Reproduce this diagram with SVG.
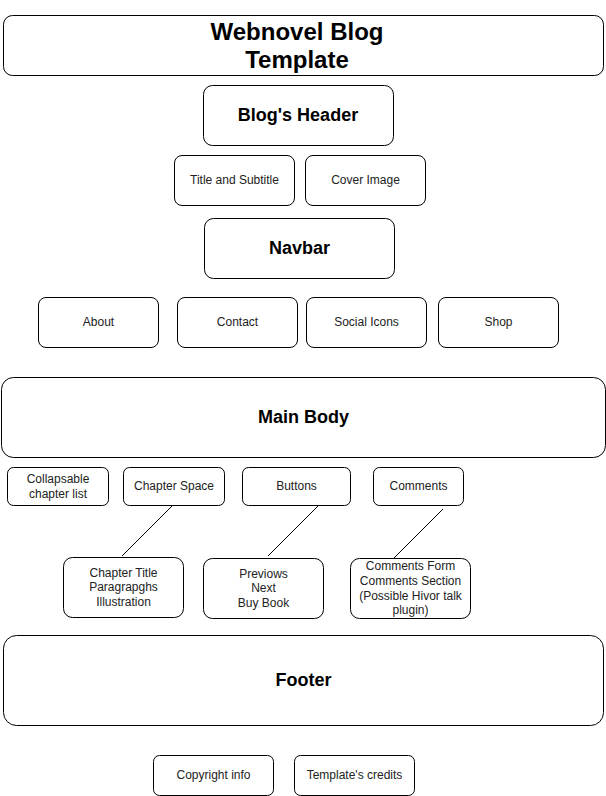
<svg xmlns="http://www.w3.org/2000/svg" width="606" height="796" viewBox="0 0 606 796">
<style>
rect{fill:#fff;stroke:#000;stroke-width:1}
text{font-family:"Liberation Sans",Arial,sans-serif;text-anchor:middle;fill:#000}
.b{font-weight:bold;font-size:18px}
.t{font-weight:bold;font-size:24px}
.s{font-size:12px;fill:#222}
.c line{stroke:#000;stroke-width:1}
</style>
<rect x="0" y="0" width="606" height="796" style="fill:#fff;stroke:none"/>
<g id="title"><rect x="3.5" y="15.5" width="600" height="60" rx="9"/><text class="t" x="297" y="40">Webnovel Blog</text><text class="t" x="297" y="68">Template</text></g>
<g id="header"><rect x="203.5" y="85.5" width="190" height="60" rx="9"/><text class="b" x="298" y="121">Blog's Header</text></g>
<g id="titlesub"><rect x="174.5" y="155.5" width="120" height="50" rx="7.5"/><text class="s" x="234.5" y="184">Title and Subtitle</text></g>
<g id="cover"><rect x="305.5" y="155.5" width="120" height="50" rx="7.5"/><text class="s" x="365.5" y="184">Cover Image</text></g>
<g id="navbar"><rect x="204.5" y="218.5" width="190" height="60" rx="9"/><text class="b" x="299.5" y="254">Navbar</text></g>
<g id="about"><rect x="38.5" y="297.5" width="120" height="50" rx="7.5"/><text class="s" x="98.5" y="326">About</text></g>
<g id="contact"><rect x="177.5" y="297.5" width="120" height="50" rx="7.5"/><text class="s" x="237.5" y="326">Contact</text></g>
<g id="social"><rect x="306.5" y="297.5" width="120" height="50" rx="7.5"/><text class="s" x="366.5" y="326">Social Icons</text></g>
<g id="shop"><rect x="438.5" y="297.5" width="120" height="50" rx="7.5"/><text class="s" x="498.5" y="326">Shop</text></g>
<g id="mainbody"><rect x="1.5" y="377.5" width="604" height="80" rx="12"/><text class="b" x="303.5" y="423">Main Body</text></g>
<g id="collapsable"><rect x="7.5" y="467.5" width="101" height="38" rx="6"/><text class="s" x="58" y="483">Collapsable</text><text class="s" x="58" y="498">chapter list</text></g>
<g id="chapterspace"><rect x="123.5" y="467.5" width="101" height="38" rx="6"/><text class="s" x="174" y="490">Chapter Space</text></g>
<g id="buttons"><rect x="242.5" y="467.5" width="108" height="38" rx="6"/><text class="s" x="296.5" y="490">Buttons</text></g>
<g id="comments"><rect x="373.5" y="467.5" width="90" height="38" rx="6"/><text class="s" x="418.5" y="490">Comments</text></g>
<g id="chaptercontent"><rect x="63.5" y="557.5" width="120" height="60" rx="9"/><text class="s" x="123.5" y="577">Chapter Title</text><text class="s" x="123.5" y="591">Paragrapghs</text><text class="s" x="123.5" y="606">Illustration</text></g>
<g id="navbuttons"><rect x="203.5" y="558.5" width="120" height="60" rx="9"/><text class="s" x="263.5" y="578">Previows</text><text class="s" x="263.5" y="592">Next</text><text class="s" x="263.5" y="607">Buy Book</text></g>
<g id="commentsform"><rect x="350.5" y="558.5" width="120" height="60" rx="9"/><text class="s" x="410.5" y="570">Comments Form</text><text class="s" x="410.5" y="585">Comments Section</text><text class="s" x="410.5" y="600">(Possible Hivor talk</text><text class="s" x="410.5" y="614">plugin)</text></g>
<g id="footer"><rect x="3.5" y="635.5" width="600" height="90" rx="13"/><text class="b" x="303.5" y="686">Footer</text></g>
<g id="copyright"><rect x="153.5" y="755.5" width="120" height="40" rx="6"/><text class="s" x="213.5" y="779">Copyright info</text></g>
<g id="credits"><rect x="294.5" y="755.5" width="120" height="40" rx="6"/><text class="s" x="354.5" y="779">Template's credits</text></g>
<g id="connectors" class="c">
<line x1="172" y1="506" x2="122" y2="556"/>
<line x1="318" y1="506" x2="268" y2="556"/>
<line x1="443" y1="509" x2="394" y2="558"/>
</g>
</svg>
